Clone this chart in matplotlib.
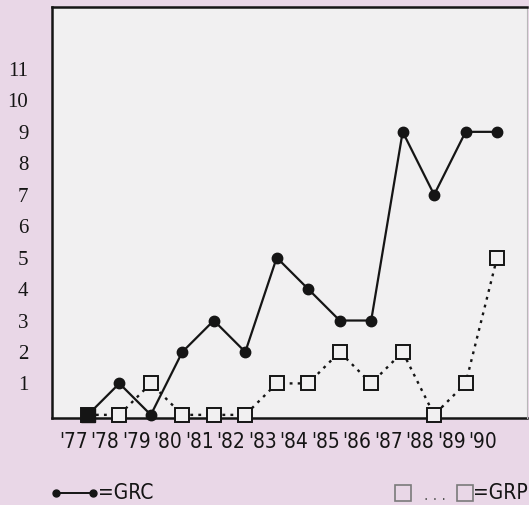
import matplotlib
matplotlib.use('Agg')
import matplotlib.pyplot as plt
from matplotlib import font_manager
from matplotlib.lines import Line2D

# 数据
years = [77, 78, 79, 80, 81, 82, 83, 84, 85, 86, 87, 88, 89, 90]
year_labels = ["'77", "'78", "'79", "'80", "'81", "'82", "'83",
               "'84", "'85", "'86", "'87", "'88", "'89", "'90"]
grc = [0, 1, 0, 2, 3, 2, 5, 4, 3, 3, 9, 7, 9, 9]
grp = [0, 0, 1, 0, 0, 0, 1, 1, 2, 1, 2, 0, 1, 5]
y_ticks = list(range(1, 12))

# 字体
names = {f.name for f in font_manager.fontManager.ttflist}
if 'Liberation Sans Narrow' in names:
    narrow = dict(family='Liberation Sans Narrow')
else:
    narrow = dict(family='DejaVu Sans', stretch='condensed')
serif = dict(family='Liberation Serif')

bg = '#e9d7e7'
panel = '#f1f0f1'
ink = '#151515'

W, H = 529, 505
fig = plt.figure(figsize=(W / 100, H / 100), dpi=100, facecolor=bg)


def px(x, y):
    return x / W, 1 - y / H


ax = fig.add_axes([52 / W, (H - 418) / H, 475 / W, 411 / H])
ax.set_facecolor(panel)

# GRP 虚线 + 方块
ax.plot(years, grp, color=ink, lw=1.7, linestyle=(0, (1.2, 2.2)),
        marker='s', ms=9.5, mfc=panel, mec=ink, mew=1.4, zorder=3,
        clip_on=False)
# GRC 实线 + 圆点
ax.plot(years, grc, color=ink, lw=1.6, marker='o', ms=7.5,
        mfc=ink, mec=ink, zorder=4, clip_on=False)
# 起点的实心方块
ax.plot(years[0], grp[0], marker='s', ms=10.5, color=ink, zorder=5,
        clip_on=False)

ax.set_xlim(75.86, 90.95)
ax.set_ylim(-0.1, 12.97)

ax.set_yticks(y_ticks)
ax.set_yticklabels([str(v) for v in y_ticks], fontsize=15, color=ink, **serif)
ax.tick_params(axis='y', length=0, pad=17)

ax.set_xticks(years)
ax.set_xticklabels(year_labels, fontsize=15, color=ink, ha='right', **narrow)
ax.tick_params(axis='x', length=0, pad=10)

for side in ['left', 'top', 'bottom']:
    ax.spines[side].set_linewidth(1.8)
    ax.spines[side].set_color(ink)
ax.spines['bottom'].set_zorder(2)
ax.spines['right'].set_linewidth(0.8)
ax.spines['right'].set_color('#b8b8b8')

# 图例
ly = 493
x0, y0 = px(56, ly)
x1, _ = px(93, ly)
fig.add_artist(Line2D([x0, x1], [y0, y0], transform=fig.transFigure,
                      color=ink, lw=1.4, marker='o', ms=5, mfc=ink))
fig.text(*px(98, ly), '=GRC', fontsize=15, color=ink, va='center', **narrow)

sx1, _ = px(403, ly)
sx2, _ = px(465, ly)
fig.add_artist(Line2D([sx1], [y0], transform=fig.transFigure, marker='s',
                      ms=11, mfc='none', mec='#7a7a7a', mew=1.2))
fig.add_artist(Line2D([sx2], [y0], transform=fig.transFigure, marker='s',
                      ms=11, mfc='none', mec='#7a7a7a', mew=1.2))
fig.text(*px(435, ly + 3), '. . .', fontsize=11, color='#555555',
         ha='center', va='center', **narrow)
fig.text(*px(473, ly), '=GRP', fontsize=15, color=ink, va='center', **narrow)

fig.savefig('out.png', dpi=100, facecolor=bg)
